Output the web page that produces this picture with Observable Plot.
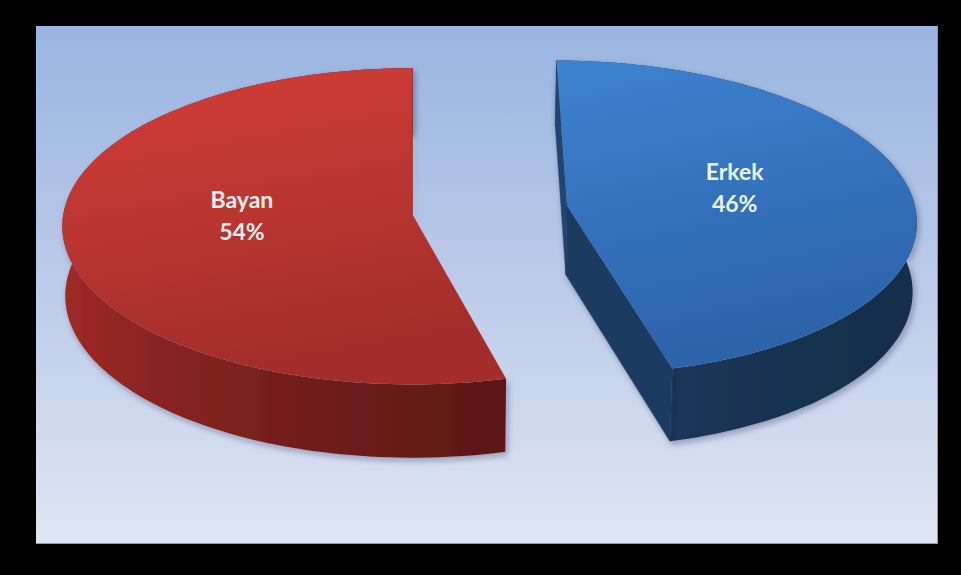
<!DOCTYPE html>
<html>
<head>
<meta charset="utf-8">
<script src="https://cdn.jsdelivr.net/npm/d3@7"></script>
<script src="https://cdn.jsdelivr.net/npm/@observablehq/plot@0.6"></script>
<style>
  html, body { margin: 0; padding: 0; background: #000; width: 961px; height: 575px; overflow: hidden; }
  #panel { position: absolute; left: 36px; top: 26px; width: 901px; height: 517px;
           background: linear-gradient(to bottom, #99b5e1 0%, #bccbe9 50%, #dfe6f3 100%);
           border-right: 1px solid #8f96a6; border-bottom: 1px solid #8f96a6; }
  #chart { position: absolute; left: 0; top: 0; }
</style>
</head>
<body>
<div id="panel"></div>
<div id="chart"></div>
<script>
// ---- data ----
const categories = ["Erkek", "Bayan"];
const values = [46, 54];
const percentLabels = ["46%", "54%"];

// ---- styling ----
const baseColors = [[62, 122, 200], [205, 54, 50]];
const topGradients = [["#3e82d1", "#2c63a9"], ["#d33e38", "#a22d2a"]];
const labelColors = ["#eef4fc", "#fbefef"];

// ---- 3D view (pie radius = 1) ----
const deg = Math.PI / 180;
const view = {
  alpha: 26.7 * deg,  // elevation
  D: 12,              // camera distance
  explode: 0.224,
  thick: 0.224,
  camX: -0.2222,
  f: 4182, cx: 412, cy: 209.6,
  lightAngle: 280 * deg,
  labelR: 0.49, labelDy: -10
};
const W = 961, H = 575;
const sa = Math.sin(view.alpha), ca = Math.cos(view.alpha);
const cam = {X: view.camX, Y: -view.D * ca, Z: view.D * sa};

function project(X, Y, Z) {
  const depth = view.D + Y * ca - Z * sa;
  return {u: (X - view.camX) / depth, v: (Y * sa + Z * ca) / depth};
}
const shade = (rgb, k) => `rgb(${rgb.map(c => Math.round(c * k)).join(",")})`;

const arcs = d3.pie().sort(null).value(d => d)(values);
const sideRows = [], radialRows = [], topRows = [], labelRows = [];
const sideStops = [];   // per slice: [{u, color}] for the outer side gradient
let fid = 0;

arcs.forEach((a, i) => {
  const mid = (a.startAngle + a.endAngle) / 2;
  const off = {x: view.explode * Math.sin(mid), y: view.explode * Math.cos(mid)};
  const P = (t, r, z) => ({X: off.x + r * Math.sin(t), Y: off.y + r * Math.cos(t), Z: z});
  const z0 = 0, z1 = -view.thick;
  const n = Math.max(8, Math.ceil((a.endAngle - a.startAngle) / (1.5 * deg)));
  const ts = d3.range(n + 1).map(k => a.startAngle + (a.endAngle - a.startAngle) * k / n);
  const visible = (pt, nx, ny) => nx * (cam.X - pt.X) + ny * (cam.Y - pt.Y) > 1e-6;
  const addFace = (pts, fill, rows) => {
    const id = "f" + (fid++);
    pts.forEach(p => { const q = project(p.X, p.Y, p.Z); rows.push({id, u: q.u, v: q.v, fill}); });
  };
  const a0 = a.startAngle, a1 = a.endAngle;
  const c0 = P(0, 0, z0);
  const r0 = P(a0, 1, z0), r1 = P(a1, 1, z0);
  // outer curved side: one band, shaded with a gradient along the visible part
  addFace([...ts.map(t => P(t, 1, z0)), ...ts.slice().reverse().map(t => P(t, 1, z1))], `url(#sideGrad${i})`, sideRows);
  const stops = [];
  ts.forEach(t => {
    const p = P(t, 1, z0);
    if (!visible(p, Math.sin(t), Math.cos(t))) return;
    const c = (1 + Math.cos(t - view.lightAngle)) / 2;
    stops.push({u: project(p.X, p.Y, p.Z).u, color: shade(baseColors[i], 0.38 + 0.42 * Math.pow(c, 1.5))});
  });
  sideStops.push(stops);
  // radial faces
  if (visible({X: (c0.X + r0.X) / 2, Y: (c0.Y + r0.Y) / 2}, -Math.cos(a0), Math.sin(a0)))
    addFace([c0, r0, P(a0, 1, z1), P(0, 0, z1)], shade(baseColors[i], 0.56), radialRows);
  if (visible({X: (c0.X + r1.X) / 2, Y: (c0.Y + r1.Y) / 2}, Math.cos(a1), -Math.sin(a1)))
    addFace([c0, r1, P(a1, 1, z1), P(0, 0, z1)], shade(baseColors[i], 0.48), radialRows);
  // top face
  addFace([c0, ...ts.map(t => P(t, 1, z0))], `url(#topGrad${i})`, topRows);
  // label
  const lp = P(mid, view.labelR, z0), lq = project(lp.X, lp.Y, lp.Z);
  labelRows.push({u: lq.u, v: lq.v, text: categories[i] + "\n" + percentLabels[i], color: labelColors[i]});
});

const plot = Plot.plot({
  width: W, height: H,
  marginTop: 0, marginRight: 0, marginBottom: 0, marginLeft: 0,
  style: {background: "transparent", overflow: "visible"},
  x: {domain: [(0 - view.cx) / view.f, (W - view.cx) / view.f], range: [0, W], axis: null},
  y: {domain: [view.cy / view.f, (view.cy - H) / view.f], range: [0, H], axis: null},
  color: {type: "identity"},
  marks: [
    Plot.line(sideRows, {x: "u", y: "v", z: "id", fill: "fill", stroke: "none", curve: "linear-closed"}),
    Plot.line(radialRows, {x: "u", y: "v", z: "id", fill: "fill", stroke: "fill", strokeWidth: 0.4, curve: "linear-closed"}),
    Plot.line(topRows, {x: "u", y: "v", z: "id", fill: "fill", stroke: "none", curve: "linear-closed"}),
    Plot.text(labelRows, {x: "u", y: "v", dy: view.labelDy, text: "text", fill: "color", fontSize: 23, fontWeight: "bold",
      fontFamily: "Lato, 'Open Sans', sans-serif", lineHeight: 1.39, lineAnchor: "middle"})
  ]
});

// gradients and soft shadow
const xs = plot.scale("x");
const defs = d3.create("svg:defs");
topGradients.forEach((g, i) => {
  const lg = defs.append("linearGradient").attr("id", "topGrad" + i)
    .attr("x1", 0).attr("y1", 0).attr("x2", 0.25).attr("y2", 1);
  lg.append("stop").attr("offset", "0%").attr("stop-color", g[0]);
  lg.append("stop").attr("offset", "100%").attr("stop-color", g[1]);
});
sideStops.forEach((stops, i) => {
  const px = stops.map(s => ({x: xs.apply(s.u), color: s.color})).sort((p, q) => p.x - q.x);
  const x1 = px[0].x, x2 = px[px.length - 1].x;
  const lg = defs.append("linearGradient").attr("id", "sideGrad" + i)
    .attr("gradientUnits", "userSpaceOnUse").attr("x1", x1).attr("y1", 0).attr("x2", x2).attr("y2", 0);
  px.forEach(p => lg.append("stop").attr("offset", ((p.x - x1) / (x2 - x1 || 1)).toFixed(4)).attr("stop-color", p.color));
});
defs.append("filter").attr("id", "softShadow").attr("x", "-10%").attr("y", "-10%").attr("width", "120%").attr("height", "130%")
  .append("feDropShadow").attr("dx", 2).attr("dy", 3).attr("stdDeviation", 3)
  .attr("flood-color", "#1a2440").attr("flood-opacity", 0.35);
plot.insertBefore(defs.node(), plot.firstChild);
const lineGroups = plot.querySelectorAll('g[aria-label="line"]');
if (lineGroups.length > 1) { lineGroups[0].setAttribute("filter", "url(#softShadow)"); lineGroups[1].setAttribute("filter", "url(#softShadow)"); }
document.getElementById("chart").appendChild(plot);
</script>
</body>
</html>
